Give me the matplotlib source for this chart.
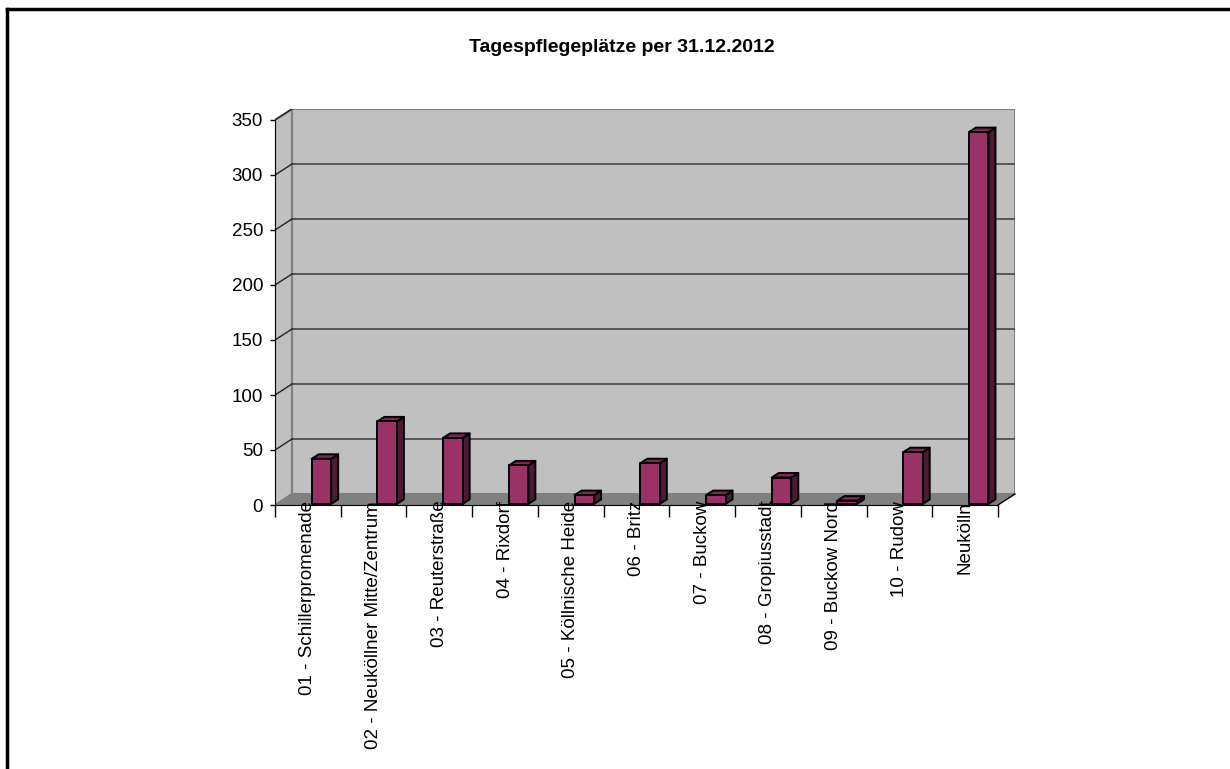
import matplotlib
matplotlib.use("Agg")
import matplotlib.pyplot as plt
from matplotlib.patches import Polygon, Rectangle
from matplotlib.lines import Line2D
from matplotlib import font_manager

categories = ["01 - Schillerpromenade", "02 - Neuköllner Mitte/Zentrum",
              "03 - Reuterstraße", "04 - Rixdorf", "05 - Köllnische Heide",
              "06 - Britz", "07 - Buckow", "08 - Gropiusstadt",
              "09 - Buckow Nord", "10 - Rudow", "Neukölln"]
values = [41, 75, 60, 35, 8, 37, 8, 24, 3, 47, 338]
yticks = [0, 50, 100, 150, 200, 250, 300, 350]
title = "Tagespflegeplätze per 31.12.2012"

names = {f.name for f in font_manager.fontManager.ttflist}
fam = ["Liberation Sans Narrow", "Liberation Sans", "DejaVu Sans"]
fam = [f for f in fam if f in names] or ["DejaVu Sans"]
plt.rcParams["font.family"] = fam

W, H = 1230, 769
fig = plt.figure(figsize=(W / 100, H / 100), dpi=100)

n = len(categories)
ymax = 350
cw = (998 - 275) / n          # px per category
u = 385 / ymax                # px per value unit
DX = 17 / cw                  # depth offset (category units)
DY = 11 / u                   # depth offset (value units)

left_px, bottom_px = 275, 505
ax = fig.add_axes([left_px / W, (H - bottom_px) / H,
                   (n + DX) * cw / W, (ymax + DY) * u / H])
ax.set_xlim(0, n + DX)
ax.set_ylim(0, ymax + DY)
ax.patch.set_visible(False)

wall = "#c0c0c0"
edge_gray = "#808080"
# side wall
ax.add_patch(Polygon([(0, 0), (DX, DY), (DX, ymax + DY), (0, ymax)],
                     closed=True, facecolor=wall, edgecolor=edge_gray, lw=1.5, zorder=1))
# back wall
ax.add_patch(Rectangle((DX, DY), n, ymax, facecolor=wall, edgecolor=edge_gray,
                       lw=1.5, zorder=1))
# floor
ax.add_patch(Polygon([(0, 0), (DX, DY), (n + DX, DY), (n, 0)], closed=True,
                     facecolor="#808080", edgecolor="none", zorder=1.5))
ax.plot([n, n + DX], [0, DY], color="black", lw=1, zorder=2, clip_on=False)

# gridlines
for v in yticks[1:]:
    if v < ymax:
        ax.plot([DX, n + DX], [v + DY, v + DY], color="#3a3a3a", lw=1.1, zorder=2)
    ax.plot([0, DX], [v, v + DY], color="#222222", lw=1, zorder=2)

# bars
front_c, side_c, top_c = "#993366", "#4d1a33", "#7a2952"
bx0, bw = 0.558, 0.297
sx, sy = 7 / cw, 4.5 / u
base = 1
for i, v in enumerate(values):
    x0 = i + bx0
    x1 = x0 + bw
    t = base + v
    ax.add_patch(Polygon([(x1, base), (x1 + sx, base + sy), (x1 + sx, t + sy), (x1, t)],
                         closed=True, facecolor=side_c, edgecolor="black", lw=1.4,
                         joinstyle="round", zorder=3))
    ax.add_patch(Polygon([(x0, t), (x0 + sx, t + sy), (x1 + sx, t + sy), (x1, t)],
                         closed=True, facecolor=top_c, edgecolor="black", lw=1.4,
                         joinstyle="round", zorder=3))
    ax.add_patch(Rectangle((x0, base), bw, v, facecolor=front_c, edgecolor="black",
                           lw=1.4, joinstyle="round", zorder=4))

# axes spines
for s in ["top", "right"]:
    ax.spines[s].set_visible(False)
ax.spines["left"].set_bounds(0, ymax)
ax.spines["bottom"].set_bounds(0, n)
ax.spines["left"].set_color("black")
ax.spines["bottom"].set_color("black")
ax.spines["left"].set_zorder(5)
ax.spines["bottom"].set_zorder(5)

ax.set_yticks(yticks)
ax.set_yticklabels([str(t) for t in yticks])
ax.tick_params(axis="y", direction="out", length=5 * 0.72, width=1, pad=5,
               labelsize=13.5)

ax.set_xticks(range(n + 1))
ax.set_xticklabels([])
ax.tick_params(axis="x", which="major", direction="out", length=12 * 0.72, width=1)
ax.set_xticks([i + 0.5 for i in range(n)], minor=True)
ax.set_xticklabels(categories, minor=True, rotation=90, va="top", ha="center")
ax.tick_params(axis="x", which="minor", length=0, pad=-3, labelsize=13.5)

fig.text(622 / W, 1 - 47 / H, title, ha="center", va="center",
         fontsize=14, fontweight="bold")

# outer border of chart area
fig.add_artist(Line2D([7 / W, 7 / W], [0, 1 - 9 / H], color="black", lw=2.5))
fig.add_artist(Line2D([7 / W, 1], [1 - 9 / H, 1 - 9 / H], color="black", lw=2.5))

fig.savefig("out.png", dpi=100)
